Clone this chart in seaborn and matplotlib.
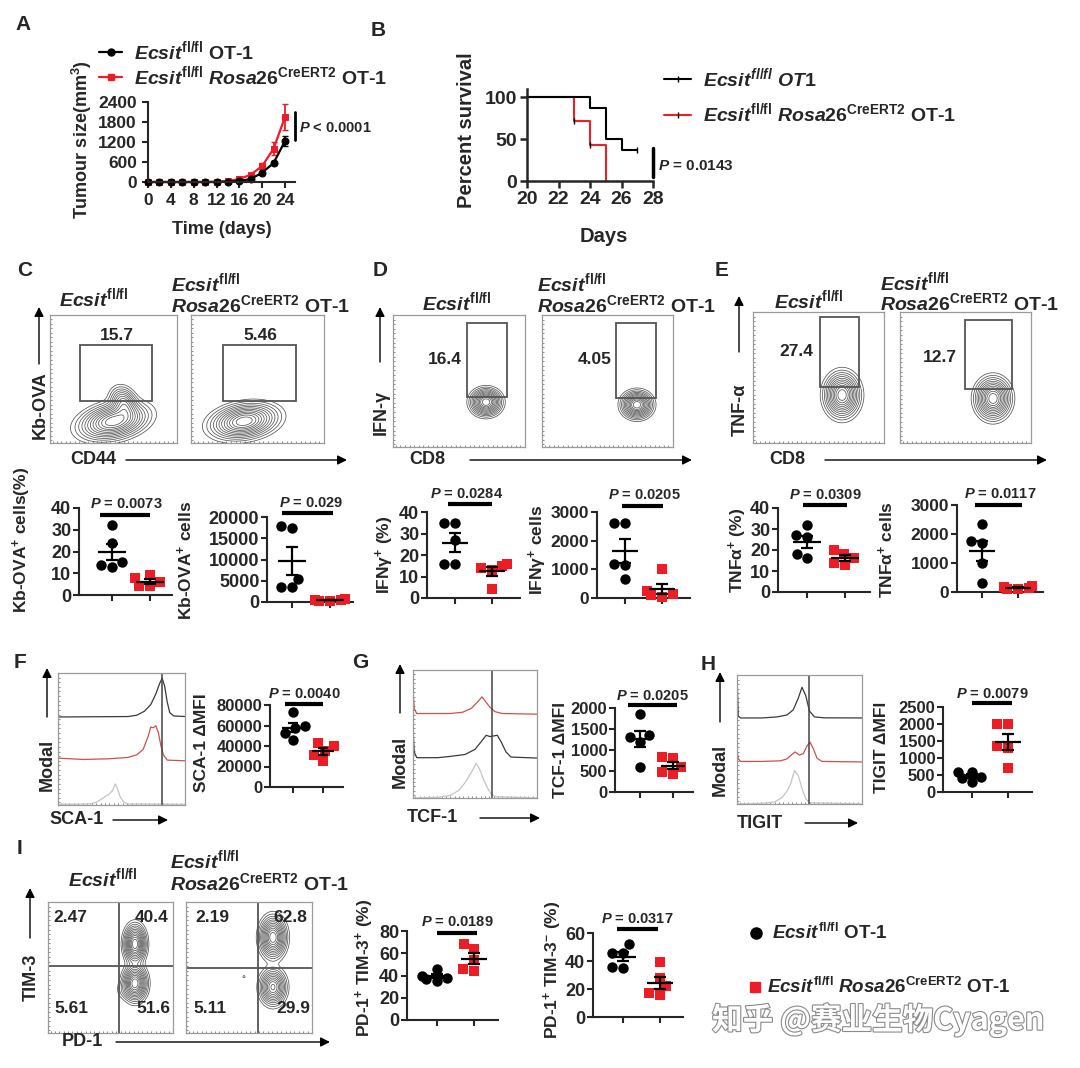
import numpy as np
import pandas as pd
import matplotlib
matplotlib.use("Agg")
import matplotlib.pyplot as plt
import seaborn as sns
from matplotlib.patches import Rectangle
from matplotlib.lines import Line2D
import matplotlib.patheffects as pe

sns.set_theme(style="ticks")
plt.rcParams['font.family'] = ['Liberation Sans', 'DejaVu Sans']
plt.rcParams['font.weight'] = 'bold'
plt.rcParams['mathtext.fontset'] = 'custom'
plt.rcParams['mathtext.rm'] = 'Liberation Sans:bold'
plt.rcParams['mathtext.it'] = 'Liberation Sans:italic:bold'
plt.rcParams['mathtext.bf'] = 'Liberation Sans:bold'
plt.rcParams['mathtext.sf'] = 'Liberation Sans:bold'
plt.rcParams['axes.linewidth'] = 1.5

RED = "#EE1C25"
W, H = 1080, 1068

# ---------------- data ----------------
days = [0, 2, 4, 6, 8, 10, 12, 14, 16, 18, 20, 22, 24]
wt_tumour = [0, 0, 0, 0, 0, 0, 0, 10, 30, 90, 280, 570, 1230]
wt_tumour_sem = [0, 0, 0, 0, 0, 0, 0, 5, 10, 20, 40, 60, 150]
ko_tumour = [0, 0, 0, 0, 0, 0, 10, 30, 90, 220, 480, 1000, 1950]
ko_tumour_sem = [0, 0, 0, 0, 0, 0, 5, 10, 25, 50, 90, 200, 380]

wt_surv_t = [20, 24, 25, 26, 27]
wt_surv = [100, 87.5, 50, 37.5, 37.5]
ko_surv_t = [20, 23, 24, 25]
ko_surv = [100, 71.4, 42.9, 0]

C_pct_wt = [32, 24, 13, 15, 14]
C_pct_ko = [9, 8, 6, 4, 4]
C_cnt_wt = [18000, 17500, 3500, 3500, 5500]
C_cnt_ko = [500, 400, 300, 600, 350]
D_pct_wt = [35, 35, 16, 16, 27]
D_pct_ko = [16, 15, 14, 13, 4]
D_cnt_wt = [2600, 2600, 1150, 1200, 650]
D_cnt_ko = [1000, 250, 150, 100, 50]
E_pct_wt = [32, 26, 27, 16, 18]
E_pct_ko = [20, 18, 16, 13, 14]
E_cnt_wt = [2350, 1700, 1750, 1000, 300]
E_cnt_ko = [200, 150, 100, 180, 120]
F_wt = [73000, 60000, 58000, 53000, 46000]
F_ko = [43000, 40000, 35000, 31000, 25000]
G_wt = [1850, 1350, 1300, 1200, 600]
G_ko = [830, 820, 600, 420, 480]
H_wt = [600, 580, 450, 400, 280]
H_ko = [2000, 2000, 1350, 1300, 700]
I1_wt = [35, 38, 40, 37, 46]
I1_ko = [68, 64, 54, 44, 46]
I2_wt = [52, 46, 46, 35, 36]
I2_ko = [39, 28, 22, 16, 17]

gate_values = {"C": ["15.7", "5.46"], "D": ["16.4", "4.05"], "E": ["27.4", "12.7"]}
quad_values = [["2.47", "40.4", "5.61", "51.6"], ["2.19", "62.8", "5.11", "29.9"]]
p_values = ["0.0073", "0.029", "0.0284", "0.0205", "0.0309", "0.0117",
            "0.0040", "0.0205", "0.0079", "0.0189", "0.0317"]

# histogram outlines (x, y in box units 0-100)
F_hist_top = [(0, 66.7), (55, 67), (62, 68), (68, 71), (73, 76), (77, 84), (80, 92), (82, 96),
              (84, 90), (86, 78), (88, 70), (91, 67.5), (100, 67)]
F_hist_mid = [(0, 35.5), (20, 34.5), (40, 35), (55, 36), (62, 38), (67, 42), (71, 52), (73, 59),
              (75, 58.5), (77, 60), (79, 55), (81, 45), (83, 38), (86, 34), (100, 33.5)]
F_hist_bot = [(0, 0.5), (25, 0.8), (30, 2), (35, 5), (38, 7), (40, 8), (43, 11), (45, 16),
              (47, 12), (49, 6), (52, 2), (55, 0.8), (100, 0.5)]
G_hist_top = [(0, 83), (1, 70), (3, 66), (30, 66), (40, 67), (47, 70), (52, 75), (55.6, 79),
              (58, 76), (62, 71), (66, 67.5), (72, 66), (100, 65.5)]
G_hist_mid = [(0, 54), (1, 36), (3, 31.5), (20, 31.5), (30, 32.5), (42, 34), (50, 38), (55, 44),
              (59, 49), (62, 48), (65, 48.5), (68, 49), (71, 44), (75, 36), (79, 32), (100, 31.2)]
G_hist_bot = [(0, 0), (20, 0.5), (30, 2), (37, 6), (42, 12), (47, 20), (51, 27), (54, 22),
              (57, 14), (60, 8), (63, 3), (67, 1), (100, 0)]
H_hist_top = [(0, 100), (1, 68), (3, 66.7), (20, 66.7), (32, 67.5), (40, 69), (45, 73), (49, 82),
              (52, 90.5), (55, 84), (58, 72), (62, 67.5), (70, 66.8), (100, 66.7)]
H_hist_mid = [(0, 42), (1, 35), (3, 33), (20, 33), (35, 33.5), (40, 35), (44, 38.5), (46.5, 40.3),
              (50, 38), (53, 39), (56, 45), (58.4, 48), (61, 43), (64, 35.5), (68, 33), (100, 32.6)]
H_hist_bot = [(0, 0), (20, 0.5), (30, 1.5), (36, 5), (40, 10), (43, 16), (46, 26), (49, 22),
              (52, 12), (55, 4), (58, 1), (100, 0)]

fig = plt.figure(figsize=(W / 100, H / 100), dpi=100)


def add_px(l, t, r, b, **kw):
    return fig.add_axes([l / W, 1 - b / H, (r - l) / W, (b - t) / H], **kw)


ov = fig.add_axes([0, 0, 1, 1], zorder=20)
ov.set_xlim(0, W)
ov.set_ylim(H, 0)
ov.axis("off")
ov.patch.set_alpha(0)


def txt(x, y, s, size=12, ha="center", va="center", rot=0, **kw):
    ov.text(x, y, s, fontsize=size, ha=ha, va=va, rotation=rot, fontweight="bold", **kw)


def arrow(x0, y0, x1, y1):
    ov.annotate("", xy=(x1, y1), xytext=(x0, y0),
                arrowprops=dict(arrowstyle="-|>", color="black", lw=1.0, mutation_scale=14,
                                shrinkA=0, shrinkB=0))


ECS = r"$\mathit{Ecsit}^{\mathrm{fl/fl}}$"
ROSA = r"$\mathit{Rosa26}^{\mathrm{CreERT2}}$"

# panel letters
for letter, (x, y) in {"A": (23, 25), "B": (378, 30), "C": (25, 271), "D": (380, 271),
                       "E": (722, 271), "F": (20, 663), "G": (360, 663), "H": (708, 665),
                       "I": (20, 848)}.items():
    txt(x, y, letter, size=15)

# ---------------- Panel A ----------------
axA = add_px(148, 102, 295, 182)
sns.lineplot(x=days, y=ko_tumour, ax=axA, color=RED, lw=1.6, marker="s", markersize=5,
             markeredgecolor=RED)
axA.errorbar(days, ko_tumour, yerr=ko_tumour_sem, fmt="none", ecolor=RED, elinewidth=1.3, capsize=2.5)
sns.lineplot(x=days, y=wt_tumour, ax=axA, color="black", lw=1.6, marker="o", markersize=5,
             markeredgecolor="black")
axA.errorbar(days, wt_tumour, yerr=wt_tumour_sem, fmt="none", ecolor="black", elinewidth=1.3, capsize=2.5)
axA.set_xlim(0, 25.75)
axA.set_ylim(0, 2400)
axA.set_xticks([0, 4, 8, 12, 16, 20, 24])
axA.set_yticks([0, 600, 1200, 1800, 2400])
axA.tick_params(labelsize=12.5, width=1.5, length=4, pad=4)
for lab in axA.get_xticklabels() + axA.get_yticklabels():
    lab.set_fontweight("bold")
sns.despine(ax=axA)
for c in axA.collections + axA.lines:
    c.set_clip_on(False)
axA.set_xlabel("Time (days)", fontsize=13, fontweight="bold", va="center")
axA.xaxis.set_label_coords((222 - 148) / 147, -(230 - 182) / 80)
axA.set_ylabel(r"Tumour size(mm$^{3}$)", fontsize=13, fontweight="bold", va="center")
axA.yaxis.set_label_coords((82 - 148) / 147, (182 - 140) / 80)
hA = [Line2D([], [], color="black", marker="o", ms=5, lw=1.6),
      Line2D([], [], color=RED, marker="s", ms=5, lw=1.6)]
fig.legend(hA, [ECS + " OT-1", ECS + " " + ROSA + " OT-1"], loc="upper left",
           bbox_to_anchor=(99 / W, 1 - 39 / H), frameon=False, fontsize=14,
           handlelength=1.2, handletextpad=0.6, labelspacing=0.05, borderpad=0, borderaxespad=0)
ov.plot([295, 295], [112, 140], color="black", lw=2)
txt(299, 128, r"$\mathit{P}$ < 0.0001", size=10.5, ha="left")

# ---------------- Panel B ----------------
axB = add_px(527, 89, 653, 181)
sns.lineplot(x=ko_surv_t, y=ko_surv, ax=axB, color="#E8222A", lw=1.5, drawstyle="steps-post")
sns.lineplot(x=wt_surv_t, y=wt_surv, ax=axB, color="black", lw=1.5, drawstyle="steps-post")
axB.plot(ko_surv_t[1:3], ko_surv[1:3], ls="none", marker="|", ms=4, color="black", mew=1)
axB.plot(wt_surv_t[-1:], wt_surv[-1:], ls="none", marker="|", ms=5, color="black", mew=1)
axB.set_xlim(20, 28)
axB.set_ylim(0, 110)
axB.set_xticks([20, 22, 24, 26, 28])
axB.set_yticks([0, 50, 100])
axB.tick_params(labelsize=14, width=1.8, length=5, pad=2)
for lab in axB.get_xticklabels() + axB.get_yticklabels():
    lab.set_fontweight("bold")
sns.despine(ax=axB)
for s in ("left", "bottom"):
    axB.spines[s].set_linewidth(1.8)
for c in axB.lines:
    c.set_clip_on(False)
axB.set_xlabel("Days", fontsize=14.5, fontweight="bold", va="center")
axB.xaxis.set_label_coords((604 - 527) / 126, -(236 - 181) / 92)
axB.set_ylabel("Percent survival", fontsize=14.5, fontweight="bold", va="center")
axB.yaxis.set_label_coords((466 - 527) / 126, (181 - 130) / 92)
hB = [Line2D([], [], color="black", lw=1.5, marker="|", ms=4),
      Line2D([], [], color="#E8222A", lw=1.5, marker="|", ms=4, mec="black")]
fig.legend(hB, [r"$\mathit{Ecsit}^{\mathit{fl/fl}}\ \mathit{OT1}$", ECS + " " + ROSA + " OT-1"],
           loc="upper left", bbox_to_anchor=(664 / W, 1 - 66 / H), frameon=False, fontsize=14,
           handlelength=1.4, handletextpad=0.6, labelspacing=0.6, borderpad=0, borderaxespad=0)
ov.plot([653, 653], [148, 177], color="black", lw=2.5)
txt(658, 166, r"$\mathit{P}$ = 0.0143", size=11, ha="left")


# ---------------- helpers for flow panels ----------------
def blob_density(X, Y, blobs):
    Z = np.zeros_like(X)
    for cx, cy, sx, sy, ang, w in blobs:
        a = np.deg2rad(ang)
        dx, dy = X - cx, Y - cy
        u = dx * np.cos(a) + dy * np.sin(a)
        v = -dx * np.sin(a) + dy * np.cos(a)
        Z += w * np.exp(-0.5 * ((u / sx) ** 2 + (v / sy) ** 2))
    return Z


def flow_axes(l, t, r, b):
    ax = add_px(l, t, r, b)
    ax.set_xlim(0, 100)
    ax.set_ylim(0, 100)
    for s in ax.spines.values():
        s.set_color("#9a9a9a")
        s.set_linewidth(0.9)
    ax.set_xticks(np.arange(2, 100, 3.5))
    ax.set_yticks(np.arange(2, 100, 3.5))
    ax.tick_params(length=1.5, width=0.6, color="#777", labelleft=False, labelbottom=False,
                   direction="in")
    ax.set_facecolor("white")
    return ax


def contours(ax, blobs):
    g = np.linspace(0, 100, 260)
    X, Y = np.meshgrid(g, g)
    Z = blob_density(X, Y, blobs)
    lv = np.array([0.03, 0.06, 0.1, 0.15, 0.21, 0.28, 0.36, 0.45, 0.55, 0.65, 0.76, 0.88]) * Z.max()
    ax.contour(X, Y, Z, levels=lv, colors="#555555", linewidths=0.55)


def flow_panel(boxes, gates, labels, label_pos, blobs):
    for (l, t, r, b), gate, lab, lp, bl in zip(boxes, gates, labels, label_pos, blobs):
        ax = flow_axes(l, t, r, b)
        contours(ax, bl)
        x0, x1, y0, y1 = gate
        ax.add_patch(Rectangle((x0, y0), x1 - x0, y1 - y0, fill=False, ec="#555", lw=1.3, zorder=5))
        ax.text(lp[0], lp[1], lab, fontsize=12.5, fontweight="bold", ha="center", va="center")


def titles(x_single, y_single, x_two, y_two1, y_two2):
    txt(x_single, y_single, ECS, size=14)
    txt(x_two, y_two1, ECS, size=14, ha="left")
    txt(x_two, y_two2, ROSA + " OT-1", size=14, ha="left")


# ---------------- Panel C flow ----------------
titles(94, 298, 171, 283, 305)
flow_panel([(50, 315, 177, 443), (191, 315, 324, 443)],
           [(23.6, 80.3, 32.8, 76.6), (24, 79, 32.8, 76.6)],
           gate_values["C"], [(52.8, 84), (52, 84)],
           [[(50, 17, 13, 6.5, 12, 1.0), (58, 31, 5, 6.5, 25, 0.5)],
            [(40, 17, 12, 6.3, 10, 1.0)]])
arrow(39, 364, 39, 307)
txt(40, 405, "Kb-OVA", size=13, rot=90)
txt(93, 460, "CD44", size=13)
arrow(126, 460, 347, 460)

# ---------------- Panel D flow ----------------
titles(457, 302, 537, 283, 305)
flow_panel([(393, 315, 525, 447), (542, 315, 673, 447)],
           [(56, 86.4, 37.9, 93.9), (56.5, 87, 37, 94)],
           gate_values["D"], [(39.4, 66), (40.5, 66)],
           [[(70.5, 34, 5.5, 4.8, 0, 1.0)],
            [(72.5, 32, 5.5, 4.8, 0, 1.0)]])
arrow(380, 362, 380, 307)
txt(381, 412, "IFN-γ", size=13, rot=90)
txt(427, 460, "CD8", size=13)
arrow(470, 460, 692, 460)

# ---------------- Panel E flow ----------------
titles(809, 300, 880, 282, 303)
flow_panel([(753, 312, 884, 443), (900, 312, 1031, 443)],
           [(51, 81, 42.7, 96.2), (49.6, 85.5, 41, 94)],
           gate_values["E"], [(32.8, 69.5), (30.5, 65.6)],
           [[(68, 36.6, 6.3, 8, 0, 1.0)], [(71, 34, 6.3, 7.4, 0, 1.0)]])
arrow(739, 352, 739, 296)
txt(740, 410, "TNF-α", size=13, rot=90)
txt(787, 460, "CD8", size=13)
arrow(825, 460, 1047, 460)


# ---------------- dot plots ----------------
def dotplot(L, t0, t1, R, top, base, ymax, ystep, wt, ko, ylabel, ylab_xy, bar, ptxt_xy, pval,
            ysize=13):
    ax = add_px(L, top, R, base)
    u = t1 - t0
    sns.swarmplot(x=np.zeros(len(wt)), y=wt, native_scale=True, color="black", marker="o",
                  size=7.5, ax=ax, zorder=3)
    sns.swarmplot(x=np.ones(len(ko)), y=ko, native_scale=True, color=RED, marker="s",
                  size=7.5, ax=ax, zorder=3)
    for g, v in ((0, wt), (1, ko)):
        v = np.asarray(v, float)
        m = v.mean()
        se = v.std(ddof=1) / np.sqrt(len(v))
        ax.hlines(m, g - 0.36, g + 0.36, color="black", lw=1.6, zorder=6)
        ax.vlines(g, m - se, m + se, color="black", lw=1.6, zorder=6)
        ax.hlines([m - se, m + se], g - 0.17, g + 0.17, color="black", lw=1.6, zorder=6)
    ax.set_xlim(-(t0 - L) / u, 1 + (R - t1) / u)
    ax.set_ylim(0, ymax)
    ax.set_xticks([0, 1])
    ax.set_xticklabels(["", ""])
    ax.set_yticks(np.arange(0, ymax + 1, ystep))
    ax.tick_params(labelsize=ysize, width=1.5, length=4, pad=1.5)
    for lab in ax.get_yticklabels():
        lab.set_fontweight("bold")
    sns.despine(ax=ax)
    for c in ax.collections:
        c.set_clip_on(False)
    ax.set_ylabel(ylabel, fontsize=12.5, fontweight="bold", va="center")
    ax.yaxis.set_label_coords((ylab_xy[0] - L) / (R - L), (base - ylab_xy[1]) / (base - top))
    ax.set_xlabel("")
    ov.plot([bar[0], bar[1]], [bar[2], bar[2]], color="black", lw=3, solid_capstyle="butt")
    txt(ptxt_xy[0], ptxt_xy[1], r"$\mathit{P}$ = " + pval, size=10.5)
    return ax


dotplot(79, 112, 150, 172, 508, 595, 40, 10, C_pct_wt, C_pct_ko, r"Kb-OVA$^{+}$ cells(%)",
        (22, 540), (100, 150, 515), (126, 504), p_values[0])
dotplot(267, 292, 330, 353, 517, 602, 20000, 5000, C_cnt_wt, C_cnt_ko, r"Kb-OVA$^{+}$ cells",
        (185, 560), (282, 333, 513), (311, 503), p_values[1])
dotplot(427, 455, 492, 520, 512, 598, 40, 10, D_pct_wt, D_pct_ko, r"IFNγ$^{+}$ (%)",
        (385, 555), (448, 492, 504), (467, 494), p_values[2])
dotplot(597, 625, 662, 690, 512, 598, 3000, 1000, D_cnt_wt, D_cnt_ko, r"IFNγ$^{+}$ cells",
        (538, 550), (622, 663, 506), (644, 495), p_values[3], ysize=12.5)
dotplot(778, 807, 845, 870, 508, 592, 40, 10, E_pct_wt, E_pct_ko, r"TNFα$^{+}$ (%)",
        (738, 550), (803, 847, 505), (825, 495), p_values[4])
dotplot(957, 982, 1018, 1043, 505, 592, 3000, 1000, E_cnt_wt, E_cnt_ko, r"TNFα$^{+}$ cells",
        (886, 550), (975, 1022, 505), (1000, 494), p_values[5], ysize=12.5)
dotplot(270, 293, 323, 343, 705, 787, 80000, 20000, F_wt, F_ko, "SCA-1 ΔMFI",
        (202, 743), (285, 323, 704), (304, 694), p_values[6], ysize=12)
dotplot(615, 640, 673, 693, 708, 792, 2000, 500, G_wt, G_ko, "TCF-1 ΔMFI",
        (560, 750), (628, 677, 705), (652, 696), p_values[7], ysize=12)
dotplot(943, 972, 1008, 1032, 707, 792, 2500, 500, H_wt, H_ko, "TIGIT ΔMFI",
        (882, 747), (972, 1012, 703), (992, 694), p_values[8], ysize=12)
dotplot(407, 437, 474, 498, 931, 1020, 80, 20, I1_wt, I1_ko, r"PD-1$^{+}$ TIM-3$^{+}$ (%)",
        (365, 968), (437, 477, 933), (457, 922), p_values[9])
dotplot(593, 623, 660, 683, 933, 1017, 60, 20, I2_wt, I2_ko, r"PD-1$^{+}$ TIM-3$^{-}$ (%)",
        (553, 970), (617, 658, 929), (637, 919), p_values[10])


# ---------------- histograms ----------------
def hist_panel(box, curves, vline_x):
    ax = flow_axes(*box)
    for pts, col in zip(curves, ["#3a3a3a", "#d0504a", "#c4c4c4"]):
        xs, ys = zip(*pts)
        ax.plot(xs, ys, color=col, lw=0.9)
    ax.axvline(vline_x, color="#444", lw=1.1)
    return ax


hist_panel((58, 673, 185, 805), [F_hist_top, F_hist_mid, F_hist_bot], 81.9)
hist_panel((413, 670, 537, 798), [G_hist_mid, G_hist_top, G_hist_bot], 63.7)
hist_panel((737, 675, 862, 804), [H_hist_top, H_hist_mid, H_hist_bot], 57.6)
arrow(47, 717, 47, 668)
txt(47, 765, "Modal", size=13, rot=90)
txt(77, 820, "SCA-1", size=13)
arrow(113, 820, 168, 820)
arrow(400, 713, 400, 664)
txt(400, 762, "Modal", size=13, rot=90)
txt(432, 818, "TCF-1", size=13)
arrow(480, 818, 540, 818)
arrow(720, 722, 720, 672)
txt(720, 770, "Modal", size=13, rot=90)
txt(760, 823, "TIGIT", size=13)
arrow(805, 823, 858, 823)

# ---------------- Panel I flow ----------------
titles(103, 878, 170, 860, 883)
I_boxes = [(48, 902, 173, 1033), (186, 902, 312, 1033)]
I_quads = [(56.8, 51.1), (57.1, 49.6)]
I_lab_pos = [[(17.6, 88.5), (83.2, 88.5), (18.4, 19), (84, 19)],
             [(20.6, 88.5), (82.5, 88.5), (19, 19), (85, 19)]]
I_blobs = [[(69.6, 68, 4.2, 7.0, 0, 1.0), (69.6, 38, 4.6, 6.5, 0, 1.0), (62, 33, 4, 4, 0, 0.08)],
           [(69, 73, 5.0, 7.5, 0, 1.0), (69, 35, 5.0, 6.5, 0, 0.8), (46, 43, 0.7, 0.7, 0, 0.06)]]
for box, q, vals, lp, bl in zip(I_boxes, I_quads, quad_values, I_lab_pos, I_blobs):
    ax = flow_axes(*box)
    contours(ax, bl)
    ax.axvline(q[0], color="#555", lw=1.3)
    ax.axhline(q[1], color="#555", lw=1.3)
    for v, p in zip(vals, lp):
        ax.text(p[0], p[1], v, fontsize=12.5, fontweight="bold", ha="center", va="center")
arrow(30, 938, 30, 888)
txt(31, 977, "TIM-3", size=13, rot=90)
txt(82, 1042, "PD-1", size=13)
arrow(116, 1042, 330, 1042)

# ---------------- bottom-right legend ----------------
ov.plot([756], [933], marker="o", ms=8, color="black", ls="none")
txt(772, 933, ECS + " OT-1", size=13.5, ha="left")
ov.plot([755], [987], marker="s", ms=7.5, color=RED, ls="none")
txt(767, 987, ECS + " " + ROSA + " OT-1", size=13.5, ha="left")

# watermark
ov.text(878, 1020, "知乎 @赛业生物Cyagen", fontsize=22, ha="center", va="center", color="white",
        family=["Noto Sans CJK SC", "DejaVu Sans"],
        path_effects=[pe.withStroke(linewidth=1.6, foreground="#8a8a8a")])

fig.savefig("out.png", dpi=100)
